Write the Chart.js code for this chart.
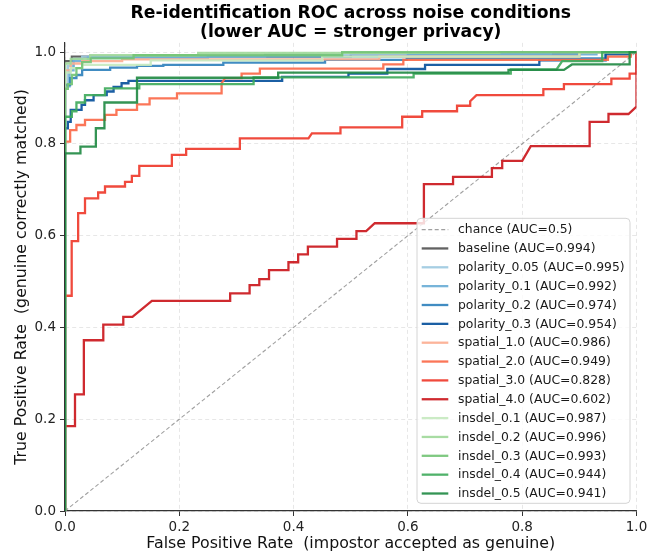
<!DOCTYPE html>
<html>
<head>
<meta charset="utf-8">
<script src="https://cdn.jsdelivr.net/npm/chart.js@4.4.1/dist/chart.umd.min.js"></script>
<style>
html,body{margin:0;padding:0;background:#fff;}
#wrap{width:662px;height:554px;}
</style>
</head>
<body>
<div id="wrap"><canvas id="c" width="662" height="554"></canvas></div>
<script>
// ---------------- DATA ----------------
const titleLines = ["Re-identification ROC across noise conditions", "(lower AUC = stronger privacy)"];
const xAxisLabel = "False Positive Rate  (impostor accepted as genuine)";
const yAxisLabel = "True Positive Rate  (genuine correctly matched)";
const xTicks = [0, 0.2, 0.4, 0.6, 0.8, 1.0];
const yTicks = [0, 0.2, 0.4, 0.6, 0.8, 1.0];

const seriesNames = ["baseline","polarity_0.05","polarity_0.1","polarity_0.2","polarity_0.3",
  "spatial_1.0","spatial_2.0","spatial_3.0","spatial_4.0",
  "insdel_0.1","insdel_0.2","insdel_0.3","insdel_0.4","insdel_0.5"];
const seriesAUC = [0.994,0.995,0.992,0.974,0.954,0.986,0.949,0.828,0.602,0.987,0.996,0.993,0.944,0.941];
const seriesColors = ["#555555","#9ecae1","#6baed6","#3182bd","#08519c",
  "#fcae91","#fb6a4a","#ef3b2c","#cb181d",
  "#c7e9c0","#a1d99b","#74c476","#41ab5d","#238b45"];

const chance = [[0,0],[1,1]];
const chanceAUC = 0.5;

// [FPR, TPR] points of each ROC curve
const baseline = [[0,0],[0,0.98],[0.012,0.98],[0.012,0.99],[0.5,0.99],[0.5,0.995],[0.9,0.995],[0.9,1],[1,1]];
const polarity_0_05 = [[0,0],[0,0.93],[0.005,0.93],[0.005,0.97],[0.015,0.97],[0.015,0.985],[0.03,0.985],[0.03,0.99],[0.35,0.99],[0.35,0.995],[0.85,0.995],[0.85,1],[1,1]];
const polarity_0_1 = [[0,0],[0,0.925],[0.008,0.925],[0.008,0.96],[0.015,0.96],[0.015,0.98],[0.04,0.98],[0.04,0.988],[0.25,0.988],[0.25,0.99],[0.6,0.99],[0.6,0.995],[0.93,0.995],[0.93,1],[1,1]];
const polarity_0_2 = [[0,0],[0,0.928],[0.009,0.928],[0.009,0.943],[0.02,0.943],[0.02,0.95],[0.03,0.95],[0.03,0.961],[0.079,0.961],[0.079,0.966],[0.126,0.966],[0.126,0.97],[0.172,0.97],[0.172,0.972],[0.277,0.972],[0.277,0.977],[0.455,0.977],[0.455,0.983],[0.598,0.983],[0.598,0.986],[0.946,0.986],[0.946,1],[1,1]];
const polarity_0_3 = [[0,0],[0,0.834],[0.005,0.834],[0.005,0.848],[0.01,0.848],[0.01,0.874],[0.029,0.874],[0.029,0.885],[0.035,0.885],[0.035,0.895],[0.05,0.895],[0.05,0.906],[0.073,0.906],[0.073,0.914],[0.085,0.914],[0.085,0.924],[0.099,0.924],[0.099,0.932],[0.111,0.932],[0.111,0.937],[0.38,0.937],[0.38,0.946],[0.496,0.946],[0.496,0.953],[0.564,0.953],[0.564,0.963],[0.63,0.963],[0.63,0.972],[0.83,0.972],[0.83,0.982],[0.946,0.982],[0.946,0.995],[0.99,0.995],[0.99,1],[1,1]];
const spatial_1_0 = [[0,0],[0,0.96],[0.01,0.96],[0.01,0.975],[0.03,0.975],[0.03,0.98],[0.1,0.98],[0.1,0.984],[0.55,0.984],[0.55,0.99],[0.9,0.99],[0.9,1],[1,1]];
const spatial_2_0 = [[0,0],[0,0.805],[0.009,0.805],[0.009,0.83],[0.02,0.83],[0.02,0.841],[0.035,0.841],[0.035,0.852],[0.07,0.852],[0.07,0.863],[0.09,0.863],[0.09,0.874],[0.126,0.874],[0.126,0.886],[0.148,0.886],[0.148,0.899],[0.196,0.899],[0.196,0.91],[0.274,0.91],[0.274,0.932],[0.28,0.943],[0.309,0.943],[0.309,0.953],[0.341,0.953],[0.341,0.964],[0.557,0.964],[0.557,0.973],[0.592,0.973],[0.592,0.983],[0.95,0.983],[0.95,0.99],[0.99,0.99],[0.99,1],[1,1]];
const spatial_3_0 = [[0,0],[0,0.469],[0.0117,0.469],[0.0117,0.588],[0.023,0.588],[0.023,0.649],[0.035,0.649],[0.035,0.681],[0.058,0.681],[0.058,0.694],[0.07,0.694],[0.07,0.707],[0.105,0.707],[0.105,0.717],[0.117,0.717],[0.117,0.73],[0.13,0.73],[0.13,0.752],[0.187,0.752],[0.187,0.776],[0.212,0.776],[0.212,0.789],[0.306,0.789],[0.306,0.812],[0.426,0.812],[0.432,0.823],[0.482,0.823],[0.482,0.836],[0.59,0.836],[0.59,0.859],[0.625,0.859],[0.625,0.871],[0.686,0.871],[0.686,0.883],[0.709,0.883],[0.709,0.893],[0.72,0.906],[0.837,0.906],[0.837,0.919],[0.873,0.919],[0.873,0.93],[0.956,0.93],[0.956,0.942],[0.988,0.942],[0.988,0.953],[1,0.953],[1,1]];
const spatial_4_0 = [[0,0],[0,0.185],[0.0175,0.185],[0.0175,0.254],[0.033,0.254],[0.033,0.372],[0.067,0.372],[0.067,0.406],[0.102,0.406],[0.102,0.423],[0.118,0.423],[0.152,0.458],[0.289,0.458],[0.289,0.474],[0.323,0.474],[0.323,0.492],[0.34,0.492],[0.34,0.505],[0.357,0.505],[0.357,0.525],[0.391,0.525],[0.391,0.542],[0.408,0.542],[0.408,0.559],[0.425,0.559],[0.425,0.576],[0.476,0.576],[0.476,0.593],[0.51,0.593],[0.51,0.61],[0.527,0.61],[0.542,0.627],[0.628,0.627],[0.628,0.712],[0.679,0.712],[0.679,0.728],[0.747,0.728],[0.747,0.747],[0.765,0.747],[0.765,0.763],[0.8,0.763],[0.815,0.795],[0.918,0.795],[0.918,0.848],[0.951,0.848],[0.951,0.865],[0.986,0.865],[1,0.881],[1,1]];
const insdel_0_1 = [[0,0],[0,0.955],[0.01,0.955],[0.01,0.965],[0.03,0.965],[0.03,0.972],[0.15,0.972],[0.15,0.982],[0.45,0.982],[0.45,0.99],[0.9,0.99],[0.9,1],[1,1]];
const insdel_0_2 = [[0,0],[0,0.975],[0.01,0.975],[0.01,0.985],[0.044,0.985],[0.044,0.993],[0.233,0.993],[0.233,0.998],[0.76,0.998],[0.76,1],[1,1]];
const insdel_0_3 = [[0,0],[0,0.92],[0.005,0.92],[0.005,0.93],[0.012,0.93],[0.012,0.95],[0.02,0.95],[0.02,0.965],[0.03,0.965],[0.03,0.978],[0.045,0.978],[0.045,0.986],[0.12,0.986],[0.12,0.993],[0.485,0.993],[0.485,1],[1,1]];
const insdel_0_4 = [[0,0],[0,0.859],[0.012,0.859],[0.012,0.871],[0.02,0.871],[0.02,0.89],[0.035,0.89],[0.035,0.906],[0.07,0.906],[0.07,0.921],[0.13,0.921],[0.13,0.93],[0.33,0.93],[0.33,0.945],[0.61,0.945],[0.61,0.953],[0.78,0.953],[0.78,0.962],[0.86,0.962],[0.87,0.98],[0.94,0.98],[0.94,1],[1,1]];
const insdel_0_5 = [[0,0],[0,0.779],[0.027,0.779],[0.027,0.794],[0.054,0.794],[0.054,0.834],[0.069,0.834],[0.069,0.89],[0.126,0.89],[0.126,0.944],[0.373,0.944],[0.373,0.955],[0.776,0.955],[0.776,0.961],[0.873,0.961],[0.887,0.973],[0.988,0.973],[0.988,1],[1,1]];

const seriesPoints = [baseline, polarity_0_05, polarity_0_1, polarity_0_2, polarity_0_3,
  spatial_1_0, spatial_2_0, spatial_3_0, spatial_4_0,
  insdel_0_1, insdel_0_2, insdel_0_3, insdel_0_4, insdel_0_5];

// ---------------- CHART ----------------
const FONT = "'DejaVu Sans', 'Liberation Sans', sans-serif";
function hexA(hex, a){
  const n = parseInt(hex.slice(1),16);
  return `rgba(${(n>>16)&255},${(n>>8)&255},${n&255},${a})`;
}
const toXY = pts => pts.map(p => ({x:p[0], y:p[1]}));

const datasets = [{
  label: `chance (AUC=${chanceAUC})`,
  data: toXY(chance),
  borderColor: 'rgba(128,128,128,0.75)',
  borderWidth: 1.1,
  borderDash: [4, 2.5],
  pointRadius: 0,
  fill: false,
  order: seriesNames.length + 1
}];
seriesNames.forEach((name, i) => {
  datasets.push({
    label: `${name} (AUC=${seriesAUC[i].toFixed(3)})`,
    data: toXY(seriesPoints[i]),
    borderColor: hexA(seriesColors[i], 0.92),
    borderWidth: 2.3,
    pointRadius: 0,
    fill: false,
    tension: 0,
    borderJoinStyle: 'miter',
    order: seriesNames.length - i
  });
});

const legendPlugin = {
  id: 'boxLegend',
  afterDatasetsDraw(chart){
    const ctx = chart.ctx, a = chart.chartArea;
    const w = 213, h = 285;
    const right = a.right - 6.5, bottom = a.bottom - 7.7;
    const left = right - w, top = bottom - h;
    ctx.save();
    ctx.beginPath();
    ctx.roundRect(left, top, w, h, 4);
    ctx.fillStyle = 'rgba(255,255,255,0.82)';
    ctx.fill();
    ctx.strokeStyle = '#d4d4d4';
    ctx.lineWidth = 1;
    ctx.stroke();
    ctx.font = `12.4px ${FONT}`;
    ctx.textBaseline = 'middle';
    ctx.textAlign = 'left';
    chart.data.datasets.forEach((ds, i) => {
      const y = top + 11.3 + i * 18.85;
      ctx.beginPath();
      ctx.setLineDash(ds.borderDash || []);
      ctx.strokeStyle = ds.borderColor;
      ctx.lineWidth = ds.borderWidth;
      ctx.moveTo(left + 4.7, y);
      ctx.lineTo(left + 31.3, y);
      ctx.stroke();
      ctx.setLineDash([]);
      ctx.fillStyle = '#1a1a1a';
      ctx.fillText(ds.label, left + 41, y + 0.5);
    });
    ctx.restore();
  }
};

new Chart(document.getElementById('c'), {
  type: 'line',
  data: { datasets },
  plugins: [legendPlugin],
  options: {
    responsive: false,
    animation: false,
    devicePixelRatio: 1,
    events: [],
    layout: { padding: { left: 0, right: 25.5, top: 0, bottom: 0 } },
    plugins: {
      legend: { display: false },
      tooltip: { enabled: false },
      title: {
        display: true,
        fullSize: false,
        text: titleLines,
        color: '#000',
        font: { family: FONT, size: 17.2, weight: 'bold', lineHeight: 1.15 },
        padding: { top: 3.3, bottom: 0 }
      }
    },
    scales: {
      x: {
        type: 'linear',
        min: 0, max: 1,
        afterBuildTicks: s => { s.ticks = xTicks.map(v => ({ value: v })); },
        afterFit: s => { s.height = 43; },
        ticks: {
          color: '#222',
          font: { family: FONT, size: 13.5 },
          padding: 3,
          maxRotation: 0,
          callback: v => Number(v).toFixed(1)
        },
        grid: {
          color: 'rgba(200,200,200,0.55)',
          lineWidth: 0.8,
          tickLength: 5,
          tickColor: '#333',
          tickWidth: 1,
          tickBorderDash: []
        },
        border: { display: true, color: '#333', width: 1.2, dash: [4, 3] },
        title: {
          display: true,
          text: xAxisLabel,
          color: '#111',
          font: { family: FONT, size: 15.8, lineHeight: 1.2 },
          padding: { top: 0, bottom: 0.5 }
        }
      },
      y: {
        type: 'linear',
        position: 'left',
        min: 0, max: 1.02,
        afterBuildTicks: s => { s.ticks = yTicks.map(v => ({ value: v })); },
        afterFit: s => { s.width = 65; },
        ticks: {
          color: '#222',
          font: { family: FONT, size: 13.5 },
          padding: 4,
          callback: v => Number(v).toFixed(1)
        },
        grid: {
          color: 'rgba(200,200,200,0.55)',
          lineWidth: 0.8,
          tickLength: 5,
          tickColor: '#333',
          tickWidth: 1,
          tickBorderDash: []
        },
        border: { display: true, color: '#333', width: 1.2, dash: [4, 3] },
        title: {
          display: true,
          text: yAxisLabel,
          color: '#111',
          font: { family: FONT, size: 15.8, lineHeight: 1.2 },
          padding: { top: 12.5, bottom: 0 }
        }
      }
    }
  }
});
</script>
</body>
</html>
